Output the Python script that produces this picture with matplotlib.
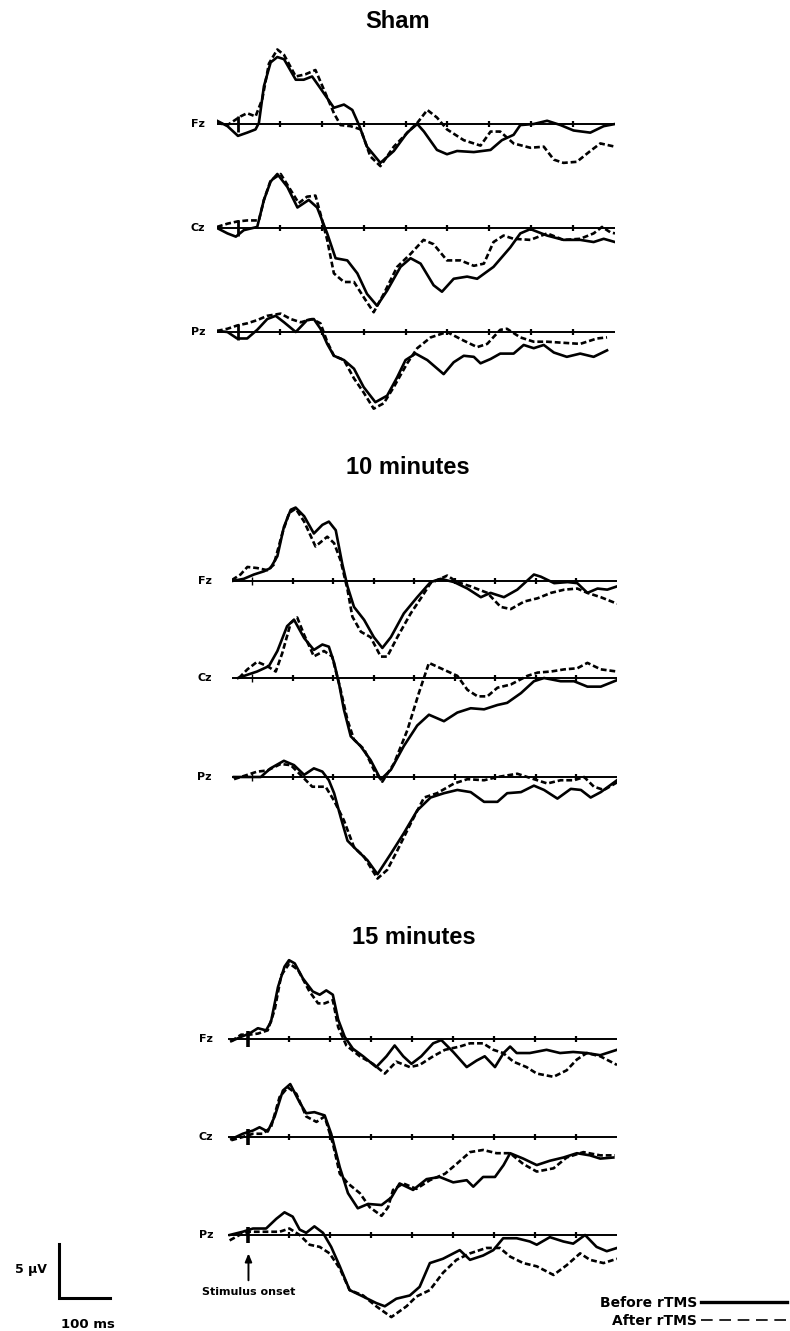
import numpy as np
import matplotlib.pyplot as plt
from matplotlib.lines import Line2D

W, H = 790, 1331
UV_PX = 10.8  # pixels per microvolt on the page

channels = ['Fz', 'Cz', 'Pz']
conditions = ['Sham', '10 minutes', '15 minutes']
tick_ms = [0, 100, 200, 300, 400, 500, 600, 700, 800]
t_start, t_end = -50, 900

# ---- Sham ----
sham_fz_pre_t = [-50, -25, 0, 22, 42, 50, 62, 78, 94, 110, 138, 157, 177, 197, 229, 253, 273, 289, 308, 340,
                 372, 404, 428, 444, 475, 499, 523, 563, 603, 630, 658, 674, 706, 738, 770, 801, 841, 873, 900]
sham_fz_pre_v = [0.3, -0.2, -1.1, -0.8, -0.5, 0.1, 3.5, 5.7, 6.2, 6.0, 4.1, 4.1, 4.4, 3.3, 1.5, 1.8, 1.3, -0.1, -2.1, -3.6,
                 -2.5, -0.8, 0.0, -0.7, -2.4, -2.8, -2.5, -2.6, -2.4, -1.5, -1.0, -0.1, 0.0, 0.3, -0.1, -0.6, -0.8, -0.2, 0.0]
sham_fz_post_t = [-50, -25, 6, 22, 42, 58, 74, 94, 110, 138, 161, 185, 205, 229, 245, 269, 293, 316, 340, 372,
                  412, 428, 452, 475, 499, 539, 579, 603, 626, 658, 698, 730, 754, 777, 809, 841, 865, 900]
sham_fz_post_v = [0.1, -0.1, 0.7, 1.0, 0.7, 2.3, 5.6, 6.9, 6.4, 4.4, 4.6, 5.0, 3.2, 1.0, -0.1, -0.2, -0.5, -3.0, -3.9, -2.1,
                  -0.5, 0.1, 1.3, 0.6, -0.5, -1.5, -2.0, -0.7, -0.7, -1.8, -2.2, -2.1, -3.3, -3.6, -3.5, -2.5, -1.8, -2.1]

sham_cz_pre_t = [-50, -25, -5, 14, 46, 62, 78, 94, 118, 142, 169, 189, 213, 233, 261, 285, 308, 332, 356, 388,
                 412, 436, 467, 487, 515, 547, 571, 610, 650, 674, 698, 738, 777, 817, 849, 873, 900]
sham_cz_pre_v = [0, -0.5, -0.8, -0.2, 0.1, 2.6, 4.3, 5.0, 3.8, 1.9, 2.6, 1.9, -0.5, -2.8, -3.0, -4.2, -6.1, -7.2, -5.8, -3.6,
                 -2.8, -3.3, -5.3, -5.9, -4.7, -4.5, -4.7, -3.6, -1.8, -0.5, -0.1, -0.7, -1.1, -1.1, -1.3, -1.0, -1.3]
sham_cz_post_t = [-50, -25, -2, 22, 50, 62, 78, 102, 126, 145, 165, 185, 197, 213, 229, 253, 277, 305, 324, 348,
                  380, 412, 443, 467, 499, 531, 563, 587, 610, 634, 658, 698, 738, 777, 817, 849, 869, 889, 900]
sham_cz_post_v = [0.1, 0.4, 0.6, 0.7, 0.7, 2.6, 4.4, 5.0, 3.5, 2.3, 2.9, 3.0, 1.3, -1.1, -4.2, -5.0, -5.0, -6.7, -7.8, -6.1,
                  -3.6, -2.4, -1.1, -1.5, -3.0, -3.0, -3.5, -3.3, -1.3, -0.7, -1.0, -1.1, -0.5, -1.1, -1.0, -0.5, 0.1, -0.4, -0.5]

sham_pz_pre_t = [-50, -25, -2, 22, 46, 70, 90, 110, 138, 165, 181, 197, 213, 229, 253, 277, 300, 328, 356, 380,
                 400, 424, 452, 491, 515, 539, 563, 579, 603, 626, 658, 682, 706, 730, 754, 785, 817, 849, 881]
sham_pz_pre_v = [0.1, 0, -0.6, -0.6, 0.2, 1.2, 1.5, 0.9, 0, 1.1, 1.2, 0.3, -1.1, -2.2, -2.6, -3.4, -5.1, -6.5, -5.9, -4.2,
                 -2.6, -2.0, -2.6, -3.9, -2.8, -2.2, -2.3, -2.9, -2.5, -2.0, -2.0, -1.2, -1.5, -1.2, -1.9, -2.3, -2.0, -2.3, -1.7]
sham_pz_post_t = [-50, -25, -2, 22, 46, 70, 102, 126, 150, 177, 197, 213, 229, 253, 277, 300, 324, 348, 372, 404,
                  428, 460, 499, 539, 571, 595, 626, 642, 674, 706, 738, 777, 817, 857, 881]
sham_pz_post_v = [0.1, 0.3, 0.6, 0.8, 1.1, 1.5, 1.7, 1.2, 0.9, 1.2, 0.8, -0.9, -2.2, -2.6, -4.3, -5.6, -7.1, -6.6, -5.1, -2.9,
                  -1.5, -0.5, 0, -0.8, -1.4, -1.1, 0.2, 0.3, -0.5, -0.9, -0.9, -1.0, -1.1, -0.6, -0.5]

# ---- 10 minutes ----
m10_fz_pre_t = [-50, -21, 4, 29, 45, 62, 78, 95, 107, 128, 152, 173, 189, 206, 222, 235, 251, 276, 300, 321,
                342, 374, 407, 440, 465, 498, 531, 564, 588, 621, 654, 695, 712, 745, 778, 802, 827, 852, 876, 900]
m10_fz_pre_v = [0, 0.2, 0.6, 0.9, 1.2, 2.3, 5.0, 6.6, 6.8, 6.0, 4.4, 5.2, 5.5, 4.7, 1.6, -0.5, -2.4, -3.6, -5.2, -6.2,
                -5.2, -3.0, -1.5, -0.1, 0.2, -0.1, -0.7, -1.5, -1.1, -1.5, -0.8, 0.6, 0.4, -0.2, -0.1, -0.2, -1.1, -0.7, -0.8, -0.5]
m10_fz_post_t = [-50, -29, -12, 12, 37, 53, 74, 91, 107, 128, 156, 185, 202, 218, 235, 247, 268, 292, 317, 333,
                 358, 391, 416, 440, 481, 506, 539, 580, 613, 638, 671, 704, 737, 770, 802, 827, 860, 900]
m10_fz_post_v = [0.1, 0.6, 1.3, 1.2, 1.0, 1.5, 4.4, 6.3, 6.7, 5.5, 3.2, 4.1, 3.5, 1.9, -0.8, -3.3, -4.7, -5.2, -7.0, -7.0,
                 -5.2, -3.0, -1.6, -0.2, 0.5, -0.1, -0.5, -1.1, -2.4, -2.6, -1.9, -1.6, -1.1, -0.8, -0.7, -1.1, -1.5, -2.1]

m10_cz_pre_t = [-35, -12, 12, 41, 62, 86, 103, 128, 152, 173, 189, 202, 214, 226, 243, 267, 292, 317, 342, 374,
                407, 436, 473, 506, 539, 572, 605, 629, 663, 695, 720, 761, 794, 827, 860, 900]
m10_cz_pre_v = [0, 0.3, 0.6, 1.1, 2.5, 4.8, 5.4, 3.7, 2.6, 3.1, 2.9, 1.4, -0.5, -2.9, -5.4, -6.3, -7.6, -9.4, -8.5, -6.3,
                -4.4, -3.4, -4.0, -3.2, -2.8, -2.9, -2.5, -2.3, -1.4, -0.3, 0, -0.3, -0.3, -0.8, -0.8, -0.2]
m10_cz_post_t = [-33, -12, 12, 37, 58, 74, 95, 111, 128, 152, 177, 197, 218, 235, 251, 276, 300, 321, 350, 383,
                 411, 436, 465, 506, 531, 556, 580, 605, 638, 679, 704, 737, 770, 802, 827, 860, 900]
m10_cz_post_v = [0, 0.8, 1.5, 1.1, 0.6, 2.3, 5.1, 5.6, 4.0, 2.0, 2.5, 2.0, -1.1, -3.9, -5.7, -6.6, -8.5, -9.6, -7.9, -4.8,
                 -1.4, 1.4, 0.9, 0.2, -1.1, -1.7, -1.7, -0.9, -0.6, 0.2, 0.5, 0.6, 0.8, 0.9, 1.4, 0.8, 0.6]

m10_pz_pre_t = [-45, -12, 21, 45, 78, 103, 128, 152, 173, 189, 202, 218, 235, 259, 284, 309, 342, 374, 407, 440,
                473, 506, 539, 572, 605, 629, 663, 695, 720, 753, 786, 811, 835, 860, 900]
m10_pz_pre_v = [0, 0, 0, 0.8, 1.5, 1.1, 0.2, 0.8, 0.5, -0.3, -1.5, -3.7, -5.9, -6.8, -7.7, -9.0, -7.1, -5.2, -3.1, -1.9,
                -1.5, -1.2, -1.4, -2.3, -2.3, -1.5, -1.4, -0.8, -1.2, -2.0, -1.1, -1.2, -1.9, -1.4, -0.3]
m10_pz_post_t = [-45, -12, 12, 37, 70, 95, 119, 148, 181, 202, 226, 251, 276, 309, 333, 358, 391, 424, 456, 498,
                 531, 572, 605, 654, 695, 728, 761, 794, 819, 843, 868, 900]
m10_pz_post_v = [-0.2, 0.2, 0.5, 0.6, 1.2, 1.1, 0.2, -0.9, -0.9, -2.2, -4.0, -6.5, -7.4, -9.4, -8.6, -6.8, -4.3, -1.9, -1.5, -0.6,
                 -0.2, -0.3, 0, 0.3, -0.2, -0.6, -0.3, -0.3, 0, -0.9, -1.2, -0.5]

# ---- 15 minutes ----
m15_fz_pre_t = [-42, -18, 2, 23, 43, 55, 72, 88, 99, 113, 133, 157, 174, 190, 206, 219, 235, 255, 280, 312,
                337, 357, 378, 398, 422, 451, 471, 500, 533, 557, 577, 602, 623, 639, 655, 687, 728, 761, 793, 826, 859, 900]
m15_fz_pre_v = [-0.2, 0.2, 0.5, 1.0, 0.8, 1.6, 4.8, 6.7, 7.3, 7.0, 5.6, 4.4, 4.1, 4.5, 4.1, 1.8, 0.2, -0.9, -1.6, -2.6,
                -1.6, -0.6, -1.6, -2.3, -1.6, -0.4, -0.1, -1.2, -2.6, -2.0, -1.6, -2.6, -1.3, -0.7, -1.3, -1.3, -1.0, -1.3, -1.2, -1.3, -1.5, -1.0]
m15_fz_post_t = [-42, -18, 2, 23, 47, 64, 80, 100, 121, 149, 170, 186, 206, 219, 239, 272, 304, 333, 361, 394,
                 418, 451, 480, 516, 541, 573, 598, 622, 647, 679, 704, 745, 777, 802, 826, 859, 900]
m15_fz_post_v = [-0.2, 0.4, 0.4, 0.5, 0.8, 2.7, 5.9, 7.0, 6.4, 4.4, 3.3, 3.3, 3.6, 1.1, -0.6, -1.6, -2.3, -3.2, -2.1, -2.6,
                 -2.4, -1.6, -1.0, -0.7, -0.4, -0.4, -1.0, -1.3, -2.1, -2.6, -3.2, -3.5, -2.9, -1.9, -1.3, -1.6, -2.4]

m15_cz_pre_t = [-42, -14, 11, 27, 47, 64, 84, 102, 125, 141, 161, 186, 202, 223, 243, 267, 292, 325, 349, 369,
                402, 435, 467, 500, 533, 549, 573, 602, 623, 639, 671, 704, 736, 769, 802, 834, 859, 891]
m15_cz_pre_v = [-0.2, 0.3, 0.6, 0.9, 0.5, 1.9, 4.3, 4.9, 3.2, 2.2, 2.3, 2.0, 0.3, -2.8, -5.2, -6.6, -6.2, -6.3, -5.6, -4.3,
                -4.9, -3.9, -3.7, -4.2, -4.0, -4.6, -3.7, -3.7, -2.6, -1.5, -2.0, -2.6, -2.2, -1.9, -1.5, -1.7, -2.0, -1.9]
m15_cz_post_t = [-42, -14, 11, 35, 55, 76, 96, 117, 141, 166, 186, 206, 223, 243, 272, 296, 325, 341, 353, 378,
                 410, 443, 480, 508, 541, 573, 606, 639, 671, 704, 745, 777, 818, 859, 895]
m15_cz_post_v = [-0.3, 0, 0.3, 0.3, 0.9, 3.7, 4.6, 4.0, 1.9, 1.4, 1.9, -0.6, -3.4, -4.3, -5.2, -6.5, -7.3, -6.5, -4.9, -4.3,
                 -4.8, -4.0, -3.4, -2.5, -1.4, -1.2, -1.5, -1.5, -2.5, -3.2, -2.9, -1.9, -1.4, -1.7, -1.7]

m15_pz_pre_t = [-46, -14, 11, 43, 68, 88, 108, 125, 141, 161, 182, 202, 223, 247, 280, 312, 333, 361, 394, 418,
                443, 475, 516, 541, 573, 598, 622, 655, 687, 704, 736, 769, 793, 822, 850, 875, 900]
m15_pz_pre_v = [0, 0.3, 0.6, 0.6, 1.5, 2.1, 1.7, 0.5, 0.2, 0.8, 0.2, -1.1, -2.9, -5.1, -5.7, -6.3, -6.6, -5.9, -5.6, -4.8,
                -2.6, -2.2, -1.4, -2.3, -1.9, -1.4, -0.3, -0.3, -0.6, -0.9, -0.2, -0.6, -0.8, 0, -1.1, -1.5, -1.2]
m15_pz_post_t = [-46, -22, 2, 43, 76, 100, 125, 149, 174, 198, 223, 247, 280, 312, 349, 386, 410, 443, 475, 508,
                 541, 581, 614, 639, 671, 704, 745, 777, 810, 834, 867, 900]
m15_pz_post_v = [-0.5, 0, 0.3, 0.3, 0.3, 0.6, 0, -0.9, -1.1, -1.7, -3.1, -5.1, -5.6, -6.6, -7.6, -6.6, -5.7, -5.1, -3.5, -2.3,
                 -1.7, -1.2, -1.2, -2.0, -2.6, -2.9, -3.7, -2.8, -1.7, -2.3, -2.6, -2.2]

traces = {
    'Sham': [(sham_fz_pre_t, sham_fz_pre_v, sham_fz_post_t, sham_fz_post_v),
             (sham_cz_pre_t, sham_cz_pre_v, sham_cz_post_t, sham_cz_post_v),
             (sham_pz_pre_t, sham_pz_pre_v, sham_pz_post_t, sham_pz_post_v)],
    '10 minutes': [(m10_fz_pre_t, m10_fz_pre_v, m10_fz_post_t, m10_fz_post_v),
                   (m10_cz_pre_t, m10_cz_pre_v, m10_cz_post_t, m10_cz_post_v),
                   (m10_pz_pre_t, m10_pz_pre_v, m10_pz_post_t, m10_pz_post_v)],
    '15 minutes': [(m15_fz_pre_t, m15_fz_pre_v, m15_fz_post_t, m15_fz_post_v),
                   (m15_cz_pre_t, m15_cz_pre_v, m15_cz_post_t, m15_cz_post_v),
                   (m15_pz_pre_t, m15_pz_pre_v, m15_pz_post_t, m15_pz_post_v)],
}

# page layout in pixels: trace x-extent, baselines, title centre, label gap, onset mark
layout = {
    'Sham': dict(x0=217, x1=615, base=[124, 228, 332], title=(398, 21), gap=12, onset=(0.7, 2.0)),
    '10 minutes': dict(x0=232, x1=617, base=[581, 678, 777], title=(408, 467), gap=20, onset=(0.4, 1.0)),
    '15 minutes': dict(x0=228, x1=617, base=[1039, 1137, 1235], title=(414, 938), gap=15, onset=(0.75, 2.6)),
}

fig = plt.figure(figsize=(W / 100, H / 100), dpi=100)
fig.patch.set_facecolor('white')

uv_top, uv_bot = 9.0, -11.0
dash = (0, (2.2, 1.1))
lw_trace = 1.9

for cond in conditions:
    lay = layout[cond]
    for i, ch in enumerate(channels):
        yb = lay['base'][i]
        ax = fig.add_axes([lay['x0'] / W, 1 - (yb - uv_bot * UV_PX) / H,
                           (lay['x1'] - lay['x0']) / W, (uv_top - uv_bot) * UV_PX / H])
        ax.set_xlim(t_start, t_end)
        ax.set_ylim(uv_bot, uv_top)
        ax.axis('off')
        ax.axhline(0, color='black', lw=1.4)
        ax.vlines(tick_ms[1:], -0.3, 0.3, color='black', lw=1.6)
        oh, olw = lay['onset']
        ax.vlines(tick_ms[0], -oh, oh, color='black', lw=olw)
        pre_t, pre_v, post_t, post_v = traces[cond][i]
        ax.plot(pre_t, pre_v, color='black', lw=lw_trace, solid_joinstyle='round')
        ax.plot(post_t, post_v, color='black', lw=lw_trace, ls=dash)
        ax.annotate(ch, xy=(t_start, 0), xytext=(-lay['gap'] * 0.72, 0), textcoords='offset points',
                    ha='right', va='center', fontsize=8, fontweight='bold')
        if cond == '15 minutes' and ch == 'Pz':
            ax.annotate('Stimulus onset', xy=(0, -1.7), xytext=(0, -5.3), ha='center', va='center',
                        fontsize=8, fontweight='bold',
                        arrowprops=dict(arrowstyle='-|>,head_width=0.25,head_length=0.6', color='black',
                                        lw=1.4, shrinkA=3, shrinkB=0))
    tx, ty = lay['title']
    fig.text(tx / W, 1 - ty / H, cond, ha='center', va='center', fontsize=17, fontweight='bold',
             family=['Liberation Sans', 'DejaVu Sans'])

# calibration bar: 5 uV by 100 ms
bar_uv, bar_ms = 5, 100
bar_ms_px = 51
sb = fig.add_axes([59 / W, 1 - 1298 / H, bar_ms_px / W, bar_uv * UV_PX / H])
sb.set_xlim(0, bar_ms)
sb.set_ylim(0, bar_uv)
sb.axis('off')
sb.plot([0, 0, bar_ms], [bar_uv, 0, 0], color='black', lw=2.2, clip_on=False, solid_joinstyle='miter')
fig.text(47 / W, 1 - 1270 / H, f'{bar_uv} µV', ha='right', va='center', fontsize=9, fontweight='bold')
fig.text(88 / W, 1 - 1324 / H, f'{bar_ms} ms', ha='center', va='center', fontsize=9.5, fontweight='bold')

# legend with the line after the label
h_pre = Line2D([], [], color='black', lw=2.4)
h_post = Line2D([], [], color='black', lw=1.2, ls=(0, (7, 4)))
fig.legend([h_pre, h_post], ['Before rTMS', 'After rTMS'], loc='lower right',
           bbox_to_anchor=(1.0, 0.0), markerfirst=False, frameon=False, fontsize=10,
           prop=dict(weight='bold', size=10), handlelength=6.2, handletextpad=0.3,
           labelspacing=0.3, borderpad=0.2, borderaxespad=0.0)

fig.savefig('out.png', dpi=100, facecolor='white')
